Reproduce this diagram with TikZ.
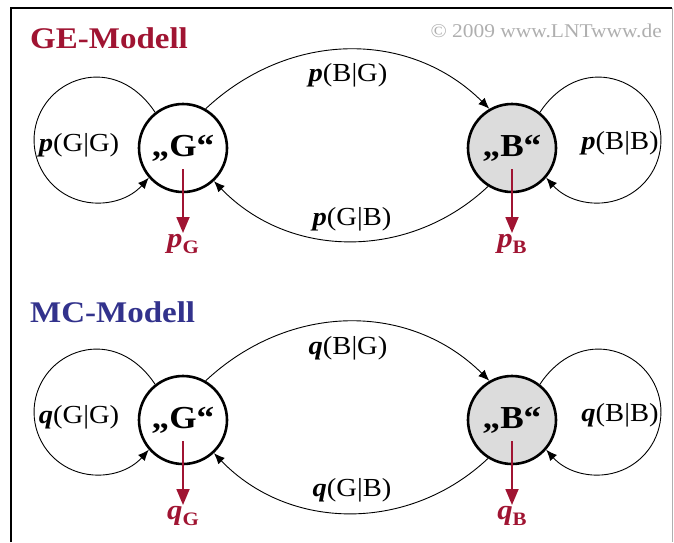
\documentclass[tikz,border=0pt]{standalone}
\usepackage{fontspec}
\setmainfont[FakeStretch=1.1]{Liberation Serif}
\usetikzlibrary{arrows.meta}
\definecolor{lntred}{RGB}{160,20,50}
\definecolor{lntblue}{RGB}{50,50,140}
\definecolor{bfill}{RGB}{220,220,220}
\definecolor{copygray}{RGB}{175,175,175}
\newcommand\lblsz{\fontsize{26}{26}\selectfont}
\newcommand\bip{\textbf{\textit{p}}}
\newcommand\biq{\textbf{\textit{q}}}
\newcommand\subl[1]{\raisebox{-6pt}{\fontsize{19}{19}\selectfont\bfseries #1}}
\begin{document}
\begin{tikzpicture}[x=1pt,y=-1pt,
  state/.style={circle, draw, line width=2.6pt, minimum size=88pt, inner sep=0pt,
                font=\fontsize{32}{32}\selectfont\bfseries},
  conn/.style={line width=0.9pt, -{Latex[length=11pt,width=9pt]}},
  redarrow/.style={draw=lntred, line width=1.8pt, -{Triangle[length=16pt,width=13pt]}},
  lbl/.style={font=\lblsz, inner sep=0pt},
  outlbl/.style={text=lntred, font=\fontsize{28}{28}\selectfont, inner sep=1pt},
  title/.style={anchor=west, font=\fontsize{30}{30}\selectfont\bfseries, inner sep=0pt}]
\useasboundingbox (0,0) rectangle (674,542);
% frame
\draw[line width=2pt] (11,542) -- (11,8) -- (672,8);
\draw[copygray, line width=1pt] (672,8) -- (672,542);
\node[anchor=east, text=copygray, font=\fontsize{19.5}{19.5}\selectfont, inner sep=0pt] (copy) at (662,31) {© 2009 www.LNTwww.de};

% ---------- GE model ----------
\node[title, text=lntred] (t1) at (30,38) {GE-Modell};
\node[state] (G1) at (183,148) {„G“};
\node[state, fill=bfill] (B1) at (512,148) {„B“};
\node[lbl] (lGG1) at (79,145) {\bip(G|G)};
\node[lbl] (lBB1) at (620,143) {\bip(B|B)};
\node[lbl] (lBG1) at (348,75) {\bip(B|G)};
\node[lbl] (lGB1) at (352,219) {\bip(G|B)};
\draw[conn] (G1.60) .. controls (290,30) and (410,30) .. (B1.120);
\draw[conn] (B1.238) .. controls (410,260) and (290,260) .. (G1.313);
\draw[conn] (G1.128) .. controls (135.9,83.4) and (108.3,72.3) .. (81.8,78.9)
  .. controls (55.3,85.5) and (36.1,108.4) .. (34.2,135.6)
  .. controls (32.3,162.8) and (48.1,188.2) .. (73.4,198.4)
  .. controls (98.7,208.6) and (127.7,201.4) .. (G1.221);
\draw[conn] (B1.52) .. controls (559.1,83.4) and (586.7,72.3) .. (613.2,78.9)
  .. controls (639.7,85.5) and (658.9,108.4) .. (660.8,135.6)
  .. controls (662.7,162.8) and (646.9,188.2) .. (621.6,198.4)
  .. controls (596.3,208.6) and (567.3,201.4) .. (B1.319);
\node[outlbl, anchor=north] (pG1) at (183,233) {\bip\subl{G}};
\node[outlbl, anchor=north] (pB1) at (512,233) {\bip\subl{B}};
\coordinate (sG1) at (183,169);
\coordinate (sB1) at (512,169);
\draw[redarrow] (sG1) -- (pG1.north);
\draw[redarrow] (sB1) -- (pB1.north);

% ---------- MC model ----------
\begin{scope}[shift={(0,272)}]
\node[title, text=lntblue] (t2) at (30,40) {MC-Modell};
\node[state] (G2) at (183,148) {„G“};
\node[state, fill=bfill] (B2) at (512,148) {„B“};
\node[lbl] (lGG2) at (79,145) {\biq(G|G)};
\node[lbl] (lBB2) at (620,143) {\biq(B|B)};
\node[lbl] (lBG2) at (348,76) {\biq(B|G)};
\node[lbl] (lGB2) at (352,218) {\biq(G|B)};
\draw[conn] (G2.60) .. controls (290,30) and (410,30) .. (B2.120);
\draw[conn] (B2.238) .. controls (410,260) and (290,260) .. (G2.313);
\draw[conn] (G2.128) .. controls (135.9,83.4) and (108.3,72.3) .. (81.8,78.9)
  .. controls (55.3,85.5) and (36.1,108.4) .. (34.2,135.6)
  .. controls (32.3,162.8) and (48.1,188.2) .. (73.4,198.4)
  .. controls (98.7,208.6) and (127.7,201.4) .. (G2.221);
\draw[conn] (B2.52) .. controls (559.1,83.4) and (586.7,72.3) .. (613.2,78.9)
  .. controls (639.7,85.5) and (658.9,108.4) .. (660.8,135.6)
  .. controls (662.7,162.8) and (646.9,188.2) .. (621.6,198.4)
  .. controls (596.3,208.6) and (567.3,201.4) .. (B2.319);
\node[outlbl, anchor=north] (pG2) at (183,233) {\biq\subl{G}};
\node[outlbl, anchor=north] (pB2) at (512,233) {\biq\subl{B}};
\coordinate (sG2) at (183,169);
\coordinate (sB2) at (512,169);
\draw[redarrow] (sG2) -- (pG2.north);
\draw[redarrow] (sB2) -- (pB2.north);
\end{scope}
\end{tikzpicture}
\end{document}
